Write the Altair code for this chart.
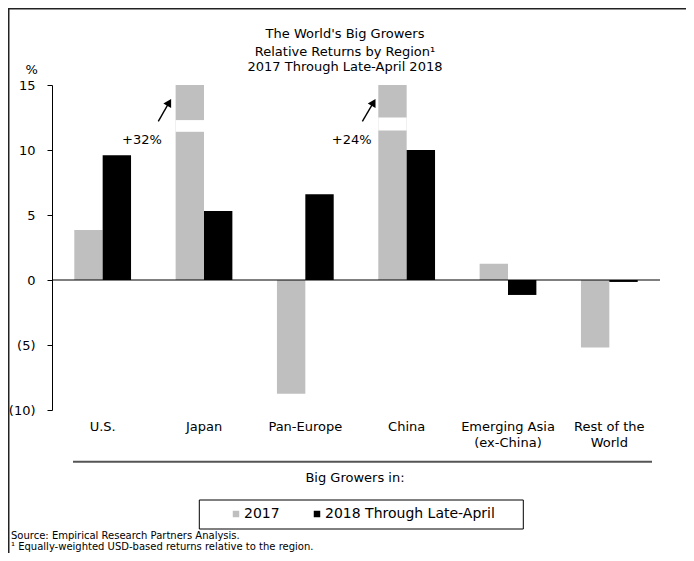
import altair as alt
import pandas as pd

# ---------------- data ----------------
regions = ["U.S.", "Japan", "Pan-Europe", "China", "Emerging Asia (ex-China)", "Rest of the World"]
region_label_lines = {
    "Emerging Asia (ex-China)": ["Emerging Asia", "(ex-China)"],
    "Rest of the World": ["Rest of the", "World"],
}
series_names = ["2017", "2018 Through Late-April"]
ret_2017 = [3.85, 32.0, -8.75, 24.0, 1.25, -5.2]
ret_2018 = [9.6, 5.3, 6.6, 10.0, -1.15, -0.15]
y_ticks = [-10, -5, 0, 5, 10, 15]

# broken (off-scale) bars
break_regions = ["Japan", "China"]
break_lo = [11.4, 11.5]
break_hi = [12.3, 12.5]

# off-scale value callouts
ann_regions = ["Japan", "China"]
ann_labels = ["+32%", "+24%"]
ann_text_y = [10.8, 10.8]
ann_tail_y = [12.2, 12.2]
ann_head_y = [13.9, 13.9]

title_lines = ["The World's Big Growers", "Relative Returns by Region\u00b9", "2017 Through Late-April 2018"]
y_unit = "%"
group_title = "Big Growers in:"
footnotes = ["Source: Empirical Research Partners Analysis.",
             "\u00b9 Equally-weighted USD-based returns relative to the region."]

# ---------------- styles ----------------
FONT = "DejaVu Sans"
GRAY = "#BFBFBF"
FS = 13
ann_text_dx = [-62, -55]
ann_tail_dx = [-45.7, -44.3]
ann_head_dx = [-33.0, -31.3]
title_y = [-51, -33.3, -17.7]
foot_y = [451, 462]

rows = []
for r, a, b in zip(regions, ret_2017, ret_2018):
    rows.append({"Region": r, "Series": series_names[0], "Return": a})
    rows.append({"Region": r, "Series": series_names[1], "Return": b})
df = pd.DataFrame(rows)

label_expr = "datum.label"
for k, v in region_label_lines.items():
    arr = "[" + ", ".join("'" + s + "'" for s in v) + "]"
    label_expr = f"datum.label == '{k}' ? {arr} : ({label_expr})"

x_enc = alt.X(
    "Region:N", sort=regions,
    scale=alt.Scale(paddingInner=0.44, paddingOuter=0.22),
    axis=alt.Axis(title=None, domain=False, ticks=False, labelAngle=0, labelFontSize=FS,
                  labelFont=FONT, labelColor="black", labelPadding=10, labelLineHeight=16,
                  labelOverlap=False, labelExpr=label_expr),
)
y_scale = alt.Scale(domain=[-10, 15], clamp=True, nice=False, zero=False)
y_axis = alt.Axis(title=None, grid=False, values=y_ticks, tickSize=5, labelPadding=12,
                  domainColor="black", tickColor="black", labelColor="black",
                  labelFontSize=FS, labelFont=FONT,
                  labelExpr="datum.value < 0 ? '(' + format(-datum.value, 'd') + ')' : format(datum.value, 'd')")


def yq(field):
    return alt.Y(field, type="quantitative", scale=y_scale, axis=y_axis)


xoff = alt.XOffset("Series:N", sort=series_names,
                   scale=alt.Scale(domain=series_names, paddingInner=0, paddingOuter=0))

bars = alt.Chart(df).mark_bar().encode(
    x=x_enc, xOffset=xoff, y=yq("Return"),
    color=alt.Color("Series:N", sort=series_names,
                    scale=alt.Scale(domain=series_names, range=[GRAY, "black"]),
                    legend=alt.Legend(title=None, orient="none", legendX=177, legendY=422,
                                      direction="horizontal", symbolType="square", symbolSize=42,
                                      symbolStrokeWidth=0, labelFontSize=14, labelFont=FONT,
                                      labelColor="black", labelLimit=400, columnPadding=30,
                                      labelOffset=1, padding=0)),
)

zero = alt.Chart(pd.DataFrame({"v": [0]})).mark_rule(color="black", strokeWidth=1).encode(y=yq("v"))

brk_df = pd.DataFrame({"Region": break_regions, "Series": [series_names[0]] * len(break_regions),
                       "lo": break_lo, "hi": break_hi})
breaks = alt.Chart(brk_df).mark_bar(color="white").encode(
    x=x_enc, xOffset=xoff, y=yq("lo"), y2="hi")

ann_df = pd.DataFrame({"Region": ann_regions, "label": ann_labels, "ty": ann_text_y,
                       "tail": ann_tail_y, "head": ann_head_y})
ann_layers = []
for i in range(len(ann_regions)):
    d = ann_df.iloc[[i]]
    base = alt.Chart(d)
    ann_layers.append(base.mark_text(font=FONT, fontSize=FS, color="black", xOffset=ann_text_dx[i]).encode(
        x=x_enc, y=yq("ty"), text="label:N"))
    ann_layers.append(base.mark_rule(color="black", strokeWidth=1.4,
                                     xOffset=ann_tail_dx[i], x2Offset=ann_head_dx[i] - 2,
                                     y2Offset=3.4).encode(
        x=x_enc, x2="Region:N", y=yq("tail"), y2="head"))
    ann_layers.append(base.mark_point(shape="triangle-up", filled=True, size=80, color="black",
                                      opacity=1, angle=30, xOffset=ann_head_dx[i] - 1.8, yOffset=3.0).encode(
        x=x_enc, y=yq("head")))

one = pd.DataFrame({"k": [0]})
deco = []
for line, yy in zip(title_lines, title_y):
    deco.append(alt.Chart(one).mark_text(text=line, font=FONT, fontSize=FS, color="black",
                                         baseline="middle").encode(x=alt.value(293), y=alt.value(yy)))
deco.append(alt.Chart(one).mark_text(text=y_unit, font=FONT, fontSize=FS, color="black",
                                     baseline="middle").encode(x=alt.value(-20.3), y=alt.value(-15)))
deco.append(alt.Chart(one).mark_rule(color="#555555", strokeWidth=2).encode(
    x=alt.value(21), x2=alt.value(600), y=alt.value(376.7)))
deco.append(alt.Chart(one).mark_text(text=group_title, font=FONT, fontSize=FS, color="black",
                                     baseline="middle").encode(x=alt.value(303), y=alt.value(393)))
deco.append(alt.Chart(one).mark_rect(fillOpacity=0, stroke="black", strokeWidth=1).encode(
    x=alt.value(147.3), x2=alt.value(471.3), y=alt.value(415), y2=alt.value(444)))
for line, yy in zip(footnotes, foot_y):
    deco.append(alt.Chart(one).mark_text(text=line, font=FONT, fontSize=10, color="black",
                                         align="left", baseline="middle").encode(x=alt.value(-41), y=alt.value(yy)))
deco.append(alt.Chart(one).mark_rule(color="#222222", strokeWidth=2).encode(
    x=alt.value(-44), x2=alt.value(640), y=alt.value(-76.5)))
deco.append(alt.Chart(one).mark_rule(color="#222222", strokeWidth=2).encode(
    x=alt.value(-43.5), y=alt.value(-77), y2=alt.value(470)))

chart = alt.layer(bars, breaks, zero, *ann_layers, *deco).properties(
    width=608, height=325,
    autosize=alt.AutoSizeParams(type="none"),
    padding={"left": 44, "top": 77, "right": 26, "bottom": 143},
).configure_view(strokeWidth=0)

chart.save("out.html", embed_options={"renderer": "svg", "actions": False})
